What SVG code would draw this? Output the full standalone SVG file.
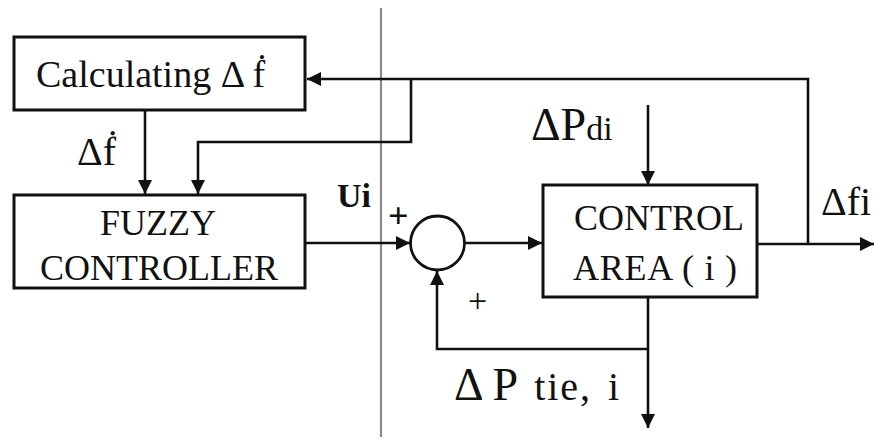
<svg xmlns="http://www.w3.org/2000/svg" width="874" height="439" viewBox="0 0 874 439">
<style>
.box{fill:#fff;stroke:#111;stroke-width:3}
.ln{fill:none;stroke:#111;stroke-width:2.6}
text{font-family:'Liberation Serif','Times New Roman',serif;fill:#111}
</style>
<defs>
<marker id="ah" viewBox="0 0 10 10" refX="10" refY="5" markerWidth="16" markerHeight="14" markerUnits="userSpaceOnUse" orient="auto">
<path d="M0,0 L10,5 L0,10 z" fill="#111"/>
</marker>
</defs>
<rect width="874" height="439" fill="#fff"/>
<line x1="381" y1="8" x2="381" y2="437" stroke="#8a8a8a" stroke-width="2.2"/>
<g id="connectors">
<line class="ln" x1="145" y1="110" x2="145" y2="194" marker-end="url(#ah)"/>
<polyline class="ln" points="808,244 808,79 307,79" marker-end="url(#ah)"/>
<polyline class="ln" points="411,79 411,142 198,142 198,194" marker-end="url(#ah)"/>
<line class="ln" x1="305" y1="243" x2="410" y2="243" marker-end="url(#ah)"/>
<line class="ln" x1="465" y1="243" x2="542" y2="243" marker-end="url(#ah)"/>
<line class="ln" x1="648" y1="105" x2="648" y2="185" marker-end="url(#ah)"/>
<line class="ln" x1="757" y1="244" x2="874" y2="244" marker-end="url(#ah)"/>
<line class="ln" x1="648" y1="297" x2="648" y2="428" marker-end="url(#ah)"/>
<polyline class="ln" points="648,349 437,349 437,271" marker-end="url(#ah)"/>
</g>
<g id="calc">
<rect class="box" x="14" y="37" width="291" height="73"/>
<text x="36" y="87" font-size="38">Calculating Δ ḟ</text>
</g>
<g id="fuzzy">
<rect class="box" x="14" y="195" width="291" height="93"/>
<text x="158" y="235" font-size="36" text-anchor="middle">FUZZY</text>
<text x="159" y="280" font-size="36" text-anchor="middle">CONTROLLER</text>
</g>
<g id="sum">
<circle cx="437.5" cy="243" r="27" fill="#fff" stroke="#111" stroke-width="2.8"/>
</g>
<g id="area">
<rect class="box" x="543" y="185" width="214" height="112"/>
<text x="659" y="230" font-size="36" text-anchor="middle">CONTROL</text>
<text x="573" y="280" font-size="36" textLength="164" lengthAdjust="spacing">AREA ( i )</text>
</g>
<g id="labels">
<text x="77" y="165" font-size="40">Δḟ</text>
<text x="337" y="207" font-size="34" font-weight="bold">Ui</text>
<text x="388" y="228" font-size="36" font-weight="bold">+</text>
<text x="468" y="312" font-size="34">+</text>
<text x="531" y="140" font-size="46">ΔP<tspan font-size="34">di</tspan></text>
<text x="821" y="215" font-size="40">Δfi</text>
<text x="454" y="400" font-size="46">Δ P<tspan font-size="40" word-spacing="4" letter-spacing="2"> tie, i</tspan></text>
</g>
</svg>
